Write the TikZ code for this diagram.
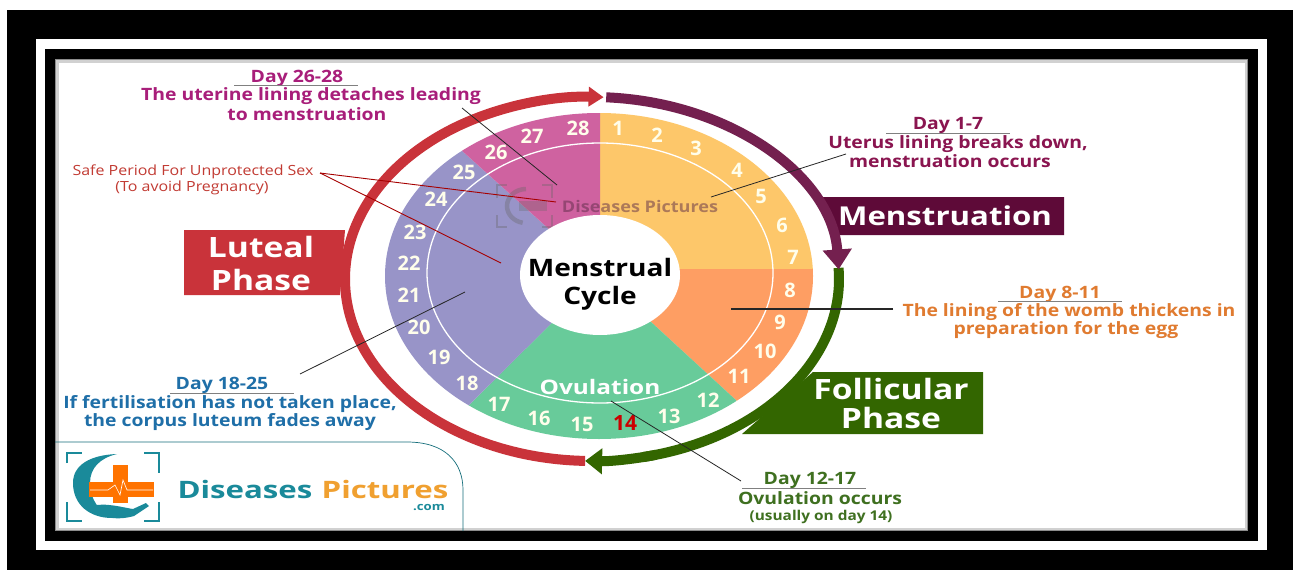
\documentclass[tikz,border=0pt]{standalone}
\usepackage{fontspec}
\setmainfont{Open Sans}
\usetikzlibrary{arrows.meta,positioning}
\definecolor{pinkday}{HTML}{A81E7A}
\definecolor{wineday}{HTML}{8A1550}
\definecolor{orangeday}{HTML}{E07B30}
\definecolor{greenday}{HTML}{3F7020}
\definecolor{blueday}{HTML}{1F6FA8}
\definecolor{safered}{HTML}{C23B33}
\definecolor{redring}{HTML}{C9333A}
\definecolor{winering}{HTML}{74204F}
\definecolor{winebox}{HTML}{5E0A38}
\definecolor{greenring}{HTML}{336600}
\definecolor{yellowpie}{HTML}{FDC76A}
\definecolor{orangepie}{HTML}{FE9E63}
\definecolor{greenpie}{HTML}{68CB9A}
\definecolor{violetpie}{HTML}{9894C8}
\definecolor{pinkpie}{HTML}{CF62A0}
\definecolor{tealogo}{HTML}{1A8A9A}
\definecolor{orangelogo}{HTML}{F0A030}
\tikzset{
  wide/.style={transform shape, xscale=#1},
  day/.style={font=\fontsize{17}{17}\selectfont\bfseries, inner sep=0pt, wide=1.14, yshift=-1.5pt},
  daynum/.style={font=\fontsize{20}{20}\selectfont\bfseries, text=white!92!yellow, inner sep=0pt},
  boxlabel/.style={font=\fontsize{28}{28}\selectfont\bfseries, text=white, inner sep=0pt, wide=1.2},
  leader/.style={line width=0.8pt, black!85},
  underrule/.style={black!50, line width=0.5pt},
  ringarc/.style={line width=10pt},
  logobracket/.style={tealogo, line width=2pt}
}
\begin{document}
\begin{tikzpicture}[x=1pt,y=-1pt]
  \useasboundingbox (0,0) rectangle (1293,570);
  \fill[black] (7,10) rectangle (1293,570);
  \fill[white] (36,39) rectangle (1267,550);
  \fill[black] (45,49) rectangle (1258,541);
  \fill[white] (55,59) rectangle (1248,531);
  \draw[black!18, line width=3pt] (57,61) rectangle (1246,529);
  \draw[black!45, line width=1.2pt] (55.5,59.5) rectangle (1247.5,530.5);

  \fill[redring] (184,230) -- (345,230) -- (340,295) -- (184,295) -- cycle;
  \fill[winebox] (820,197) -- (1064,197) -- (1064,235) -- (836,235) -- cycle;
  \fill[greenring] (813,372) -- (983,372) -- (983,434) -- (742,434) -- cycle;

  \begin{scope}
    \clip (599,276) ellipse [x radius=214, y radius=163];
    \fill[yellowpie] (600,275) -- (600,100) -- (830,100) -- (830,269) -- (680,269) -- cycle;
    \fill[orangepie] (640,269) -- (830,269) -- (830,430) -- (750,413) -- (600,275) -- cycle;
    \fill[greenpie] (600,275) -- (750,413) -- (750,450) -- (450,450) -- (455,419) -- cycle;
    \fill[violetpie] (600,275) -- (455,419) -- (370,450) -- (370,100) -- (450,140) -- cycle;
    \fill[pinkpie] (600,275) -- (450,140) -- (450,100) -- (600,100) -- cycle;
  \end{scope}
  \draw[white, line width=1.3pt] (600,273) ellipse [x radius=173, y radius=130];

  \node[font=\fontsize{16}{16}\selectfont\bfseries, text=black!55!pinkpie, opacity=0.5, inner sep=0pt, wide=1.13] (markpink) at (640,206) {Diseases Pictures};
  \draw[black!60, opacity=0.35, line width=1.5pt] (497,198) -- (497,185) -- (507,185) (542,185) -- (552,185) -- (552,198) (497,215) -- (497,227) -- (507,227) (542,227) -- (552,227) -- (552,215);
  \draw[black!60, opacity=0.35, line width=4.5pt] (526,189) arc [start angle=-90, end angle=-260, x radius=19, y radius=17];
  \fill[black!60, opacity=0.3] (519,201) rectangle (547,211);

  \fill[white] (600,275) ellipse [x radius=80, y radius=60];
  \node[font=\fontsize{24}{24}\selectfont\bfseries, inner sep=0pt, wide=1.17] (menstrual) at (600,267) {Menstrual};
  \node[font=\fontsize{24}{24}\selectfont\bfseries, inner sep=0pt, wide=1.17] (cycle) at (600,298) {Cycle};
  \node[font=\fontsize{20}{20}\selectfont\bfseries, text=white, inner sep=0pt, wide=1.22] (ovulation) at (600,387) {Ovulation};

  \foreach \n/\x/\y in {1/618/128, 2/657/135, 3/696/148, 4/737/170, 5/761/196, 6/782/225, 7/793/257,
    8/790/290, 9/780/322, 10/765/351, 11/739/376, 12/708/400, 13/669/416, 15/582/424, 16/539/418,
    17/499/404, 18/467/383, 19/439/357, 20/419/327, 21/409/295, 22/409/263, 23/415/232, 24/436/199,
    25/464/172, 26/496/152, 27/532/136, 28/578/128}
    \node[daynum] (num\n) at (\x,\y) {\n};
  \node[daynum, text=red!80!black, font=\fontsize{21}{21}\selectfont\bfseries] (num14) at (625,423) {14};

  \coordinate (ringcentre) at (592,279);
  \draw[ringarc, redring, -{Triangle[width=19pt,length=15pt]}] ([shift={(91.6:247 and 182)}]ringcentre) arc [start angle=91.6, end angle=272.7, x radius=247, y radius=182];
  \draw[ringarc, greenring] ([shift={(-3.5:247 and 182)}]ringcentre) arc [start angle=-3.5, end angle=78, x radius=247, y radius=182];
  \draw[ringarc, greenring, -{Triangle[width=25pt,length=17pt]}] ([shift={(75:247 and 182)}]ringcentre) arc [start angle=75, end angle=91.6, x radius=247, y radius=182];
  \draw[ringarc, winering, -{Triangle[width=28pt,length=20pt]}] ([shift={(-86.7:247 and 182)}]ringcentre) arc [start angle=-86.7, end angle=-3.0, x radius=247, y radius=182];

  \node[boxlabel] (luteal) at (261,247) {Luteal};
  \node[boxlabel] (lutealphase) at (261,280) {Phase};
  \node[boxlabel, font=\fontsize{26}{26}\selectfont\bfseries] (menstruation) at (945,216) {Menstruation};
  \node[boxlabel] (follicular) at (891,389) {Follicular};
  \node[boxlabel] (follicularphase) at (891,418) {Phase};

  \node[day, text=pinkday] (day26) at (297,77) {Day 26-28};
  \node[day, text=pinkday] (uterine) at (311,95) {The uterine lining detaches leading};
  \node[day, text=pinkday] (tomens) at (307,113) {to menstruation};
  \draw[underrule] (234,85) -- (358,85);

  \node[day, text=wineday] (day1) at (948,124) {Day 1-7};
  \node[day, text=wineday] (uterus) at (958,143) {Uterus lining breaks down,};
  \node[day, text=wineday] (occurs) at (950,160) {menstruation occurs};
  \draw[underrule] (886,133) -- (1010,133);

  \node[day, text=orangeday] (day8) at (1060,293) {Day 8-11};
  \node[day, text=orangeday] (womb) at (1069,311) {The lining of the womb thickens in};
  \node[day, text=orangeday] (egg) at (1066,329) {preparation for the egg};
  \draw[underrule] (998,301) -- (1122,301);

  \node[day, text=greenday] (day12) at (810,479) {Day 12-17};
  \node[day, text=greenday] (ovoccurs) at (820,497) {Ovulation occurs};
  \node[day, text=greenday, font=\fontsize{13.5}{14}\selectfont\bfseries] (usually) at (821,515) {(usually on day 14)};
  \draw[underrule] (742,488) -- (866,488);

  \node[day, text=blueday] (day18) at (222,384) {Day 18-25};
  \node[day, text=blueday] (fertil) at (230,403) {If fertilisation has not taken place,};
  \node[day, text=blueday] (luteum) at (230,421) {the corpus luteum fades away};
  \draw[underrule] (170,393) -- (294,393);

  \node[font=\fontsize{14}{14}\selectfont, text=safered, inner sep=0pt, wide=1.14] (safe) at (193,172) {Safe Period For Unprotected Sex};
  \node[font=\fontsize{14}{14}\selectfont, text=safered, inner sep=0pt, wide=1.14] (avoid) at (192,188) {(To avoid Pregnancy)};

  \coordinate (safefrom) at (320,173);
  \coordinate (safepink) at (556,202);
  \coordinate (safeviolet) at (501,263);
  \draw[red!65!black, line width=0.9pt] (safefrom) -- (safepink);
  \draw[red!65!black, line width=0.9pt] (safefrom) -- (safeviolet);

  \coordinate (pinkfrom) at (462,108);
  \coordinate (pinkto) at (557,185);
  \coordinate (yellowfrom) at (846,154);
  \coordinate (yellowto) at (711,197);
  \coordinate (orangefrom) at (893,309);
  \coordinate (orangeto) at (731,309);
  \coordinate (violetfrom) at (300,374);
  \coordinate (violetto) at (465,292);
  \coordinate (greenfrom) at (741,481);
  \coordinate (greento) at (611,401);
  \draw[leader] (pinkfrom) -- (pinkto);
  \draw[leader] (yellowfrom) -- (yellowto);
  \draw[leader, line width=1.1pt] (orangefrom) -- (orangeto);
  \draw[leader] (violetfrom) -- (violetto);
  \draw[leader] (greenfrom) -- (greento);

  \draw[tealogo!80!black, line width=0.7pt] (55,442) -- (407,442) .. controls (445,442) and (463,462) .. (463,490) -- (463,531);
  \draw[logobracket] (67,463) -- (67,453) -- (82,453);
  \draw[logobracket] (144,453) -- (159,453) -- (159,473);
  \draw[logobracket] (67,502) -- (67,521) -- (82,521);
  \draw[logobracket] (144,521) -- (159,521) -- (159,502);
  \fill[tealogo] (117,454) .. controls (90,455) and (73,465) .. (73,483) .. controls (73,505) and (90,518) .. (112,518) .. controls (100,512) and (90,500) .. (90,483) .. controls (90,468) and (100,458) .. (117,454) -- cycle;
  \fill[tealogo] (92,506) .. controls (105,502) and (125,508) .. (133,509) -- (146,503) -- (149,506) -- (134,516) .. controls (120,520) and (100,520) .. (92,506) -- cycle;
  \fill[orange!90!red] (113,465) rectangle (128,503);
  \fill[orange!90!red] (89,482) rectangle (154,497);
  \draw[white, line width=0.6pt] (90,490) -- (108,490) -- (115,485) -- (120,495) -- (123,480) -- (127,490) -- (153,490);

  \node[font=\fontsize{24}{24}\selectfont\bfseries, text=tealogo, inner sep=0pt, wide=1.3] (diseases) at (245,489) {Diseases};
  \node[font=\fontsize{24}{24}\selectfont\bfseries, text=orangelogo, inner sep=0pt, wide=1.3] (pictures) at (385,489) {Pictures};
  \node[font=\fontsize{11}{11}\selectfont\bfseries, text=tealogo, inner sep=0pt, anchor=east, wide=1.2] (com) at (445,508) {.com};
\end{tikzpicture}
\end{document}
